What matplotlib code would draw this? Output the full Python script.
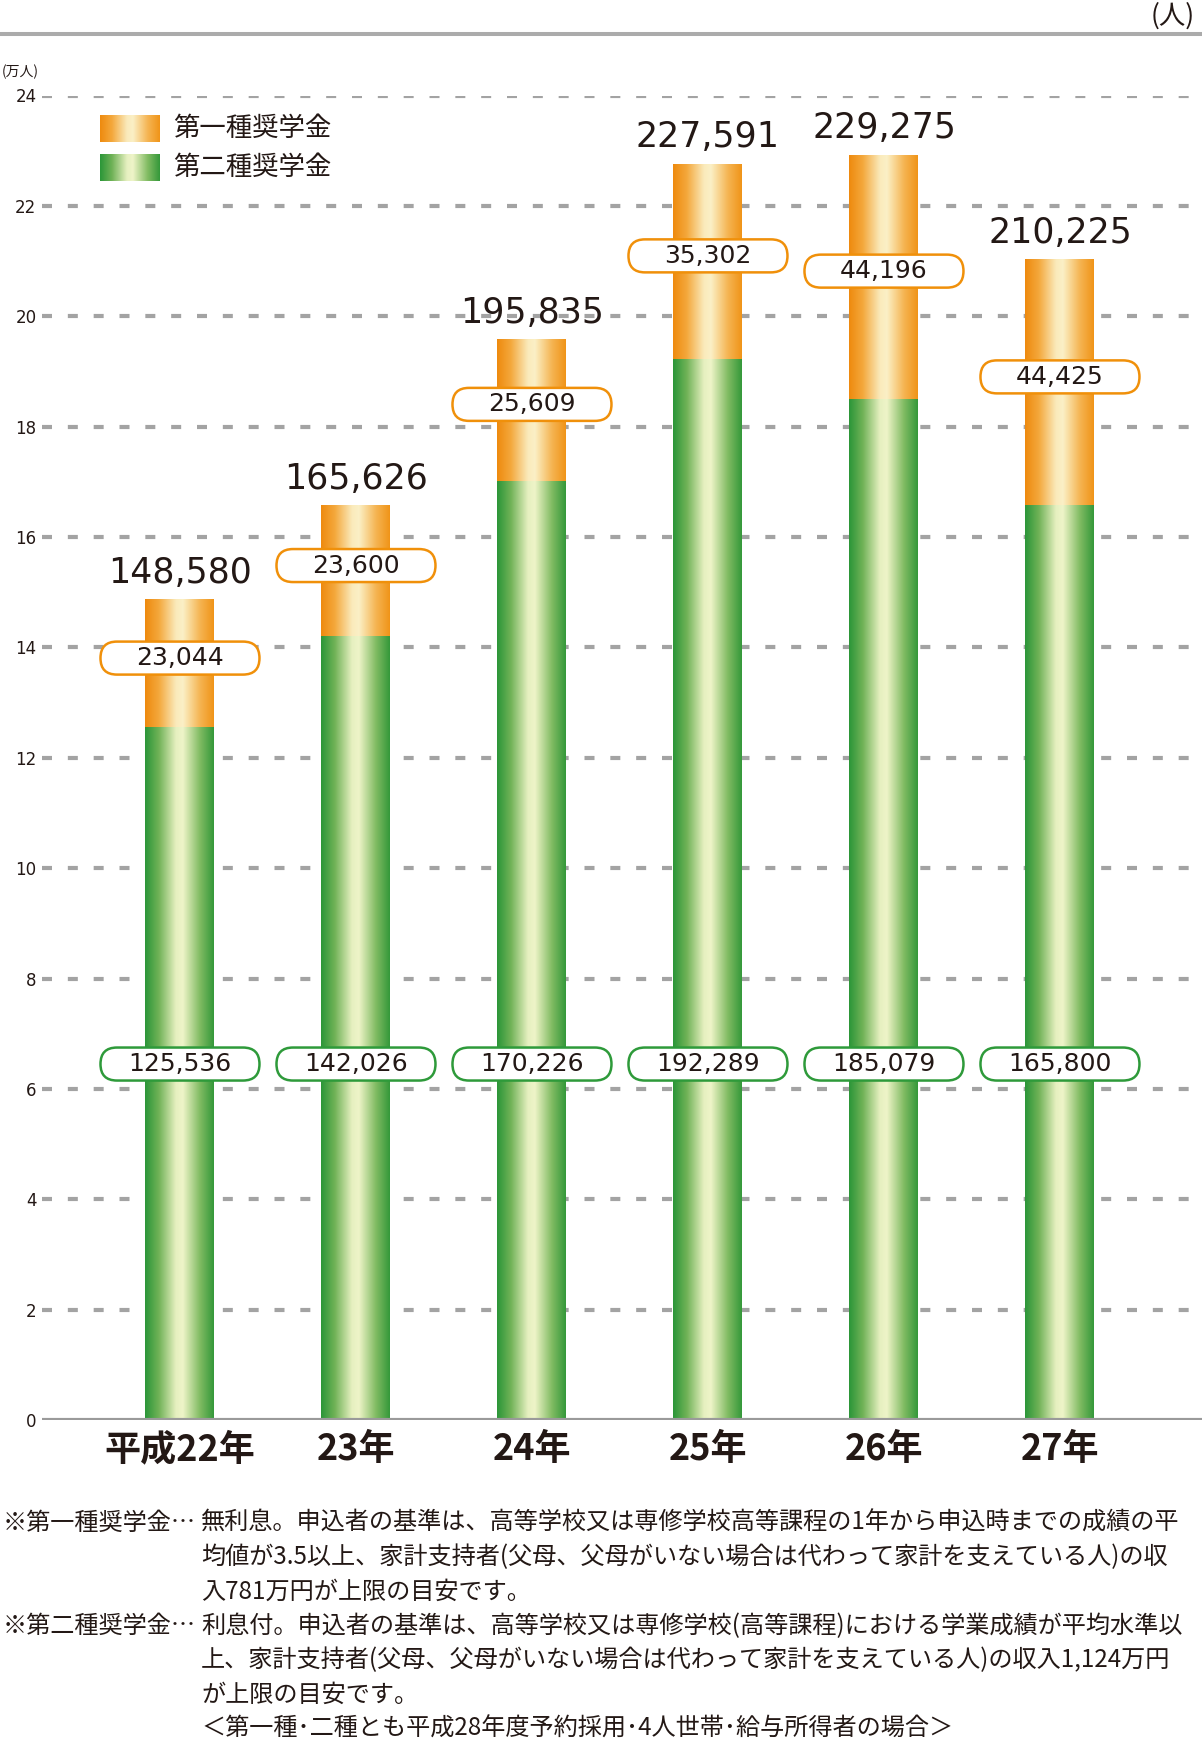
import matplotlib
matplotlib.use("Agg")
import matplotlib.pyplot as plt
import numpy as np
from matplotlib.colors import LinearSegmentedColormap
from matplotlib.patches import FancyBboxPatch
from matplotlib.lines import Line2D

plt.rcParams['font.family'] = ['DejaVu Sans', 'Noto Sans CJK JP']

# data (people)
years = ["平成22年", "23年", "24年", "25年", "26年", "27年"]
first_type = [23044, 23600, 25609, 35302, 44196, 44425]
second_type = [125536, 142026, 170226, 192289, 185079, 165800]
totals = [148580, 165626, 195835, 227591, 229275, 210225]
legend_labels = ["第一種奨学金", "第二種奨学金"]

notes = [
    ("※第一種奨学金…", "無利息。申込者の基準は、高等学校又は専修学校高等課程の1年から申込時までの成績の平"),
    ("", "均値が3.5以上、家計支持者(父母、父母がいない場合は代わって家計を支えている人)の収"),
    ("", "入781万円が上限の目安です。"),
    ("※第二種奨学金…", "利息付。申込者の基準は、高等学校又は専修学校(高等課程)における学業成績が平均水準以"),
    ("", "上、家計支持者(父母、父母がいない場合は代わって家計を支えている人)の収入1,124万円"),
    ("", "が上限の目安です。"),
    ("", "＜第一種･二種とも平成28年度予約採用･4人世帯･給与所得者の場合＞"),
]

TXT = "#231815"
JP = "Noto Sans CJK JP"

orange_cmap = LinearSegmentedColormap.from_list("og", [
    (0, "#ee8a0e"), (0.2, "#f4a83c"), (0.45, "#faeabb"), (0.55, "#fbf0c6"),
    (0.8, "#f5b452"), (1, "#f09418")])
green_cmap = LinearSegmentedColormap.from_list("gr", [
    (0, "#2b9638"), (0.2, "#70b257"), (0.45, "#e6f0c0"), (0.55, "#eef4c8"),
    (0.8, "#80bb62"), (1, "#34983a")])
grad = np.linspace(0, 1, 256).reshape(1, -1)

W, H = 1202, 1743
fig = plt.figure(figsize=(W / 100, H / 100), dpi=100)
ax = fig.add_axes([42 / W, 1 - 1420 / H, 1 - 42 / W, (1420 - 95.5) / H])

x = np.arange(len(years))
lo = np.array(second_type) / 10000
hi = np.array(first_type) / 10000
tot = np.array(totals) / 10000
bw = 0.392

bars_g = ax.bar(x, lo, bw, color="none", edgecolor="none", zorder=3)
bars_o = ax.bar(x, hi, bw, bottom=lo, color="none", edgecolor="none", zorder=3)
for b in bars_g:
    ax.imshow(grad, cmap=green_cmap, aspect="auto", zorder=2, interpolation="bilinear",
              extent=[b.get_x(), b.get_x() + b.get_width(), b.get_y(), b.get_y() + b.get_height()])
for b in bars_o:
    ax.imshow(grad, cmap=orange_cmap, aspect="auto", zorder=2, interpolation="bilinear",
              extent=[b.get_x(), b.get_x() + b.get_width(), b.get_y(), b.get_y() + b.get_height()])

ax.set_xlim(-0.784, 5.807)
ax.set_ylim(0, 24)

# gridlines
for yv in range(2, 25, 2):
    ax.axhline(yv, color="#a3a3a3", lw=3, dashes=(2.4, 3.8), zorder=1)
ax.axhline(0, color="#9a9a9a", lw=3, zorder=4)

for s in ax.spines.values():
    s.set_visible(False)
ax.set_yticks(range(0, 25, 2))
ax.tick_params(axis="y", length=0, pad=4, labelsize=12, labelcolor=TXT)
ax.set_xticks(x)
ax.set_xticklabels(years, fontfamily=JP, fontweight="bold", fontsize=26, color=TXT)
ax.tick_params(axis="x", length=0, pad=8)

# pixel scale for pill boxes
p0 = ax.transData.transform((0, 0))
p1 = ax.transData.transform((1, 1))
px_x = p1[0] - p0[0]
px_y = p1[1] - p0[1]
m_asp = px_x / px_y
box_w = 159 / px_x
box_h = 33 / px_y


def pill(xc, yc, color, text):
    hh = box_h / m_asp
    p = FancyBboxPatch((xc - box_w / 2, yc - box_h / 2), box_w, box_h,
                       boxstyle="round,pad=0,rounding_size=%f" % (hh / 2),
                       mutation_aspect=m_asp, facecolor="white", edgecolor=color,
                       lw=1.8, zorder=5)
    ax.add_patch(p)
    ax.text(xc, yc, text, ha="center", va="center", fontsize=18, color=TXT, zorder=6)


for i in range(len(years)):
    pill(x[i], lo[i] + hi[i] / 2 + 0.1, "#f0900a", f"{first_type[i]:,}")
    pill(x[i], 6.45, "#2e9a3a", f"{second_type[i]:,}")
    ax.annotate(f"{totals[i]:,}", (x[i], tot[i]), xytext=(0, 12), textcoords="offset points",
                ha="center", va="baseline", fontsize=25, color=TXT, zorder=6)

# top rule and unit labels
fig.add_artist(Line2D([0, 1], [1 - 34 / H, 1 - 34 / H], color="#ababab", lw=2.9))
fig.text(1195 / W, 1 - 2 / H, "(人)", ha="right", va="top", fontsize=19,
         family=JP, color=TXT)
fig.text(2 / W, 1 - 72 / H, "(万人)", ha="left", va="center", fontsize=10,
         family=JP, color=TXT)

# legend
for k, cm in enumerate([orange_cmap, green_cmap]):
    top = 115 + k * 39
    lax = fig.add_axes([100 / W, 1 - (top + 27) / H, 60 / W, 27 / H])
    lax.imshow(grad, cmap=cm, aspect="auto", interpolation="bilinear")
    lax.axis("off")
    fig.text(173 / W, 1 - (top + 13.5) / H, legend_labels[k], ha="left", va="center",
             fontsize=19, family=JP, color=TXT)

# notes
for j, (pre, body) in enumerate(notes):
    yy = 1 - (1523 + j * 34.3) / H
    if pre:
        fig.text(3 / W, yy, pre, ha="left", va="center", fontsize=17.4, family=JP, color=TXT)
    fig.text(201 / W, yy, body, ha="left", va="center", fontsize=17.4, family=JP, color=TXT)

fig.savefig("out.png", dpi=100)
